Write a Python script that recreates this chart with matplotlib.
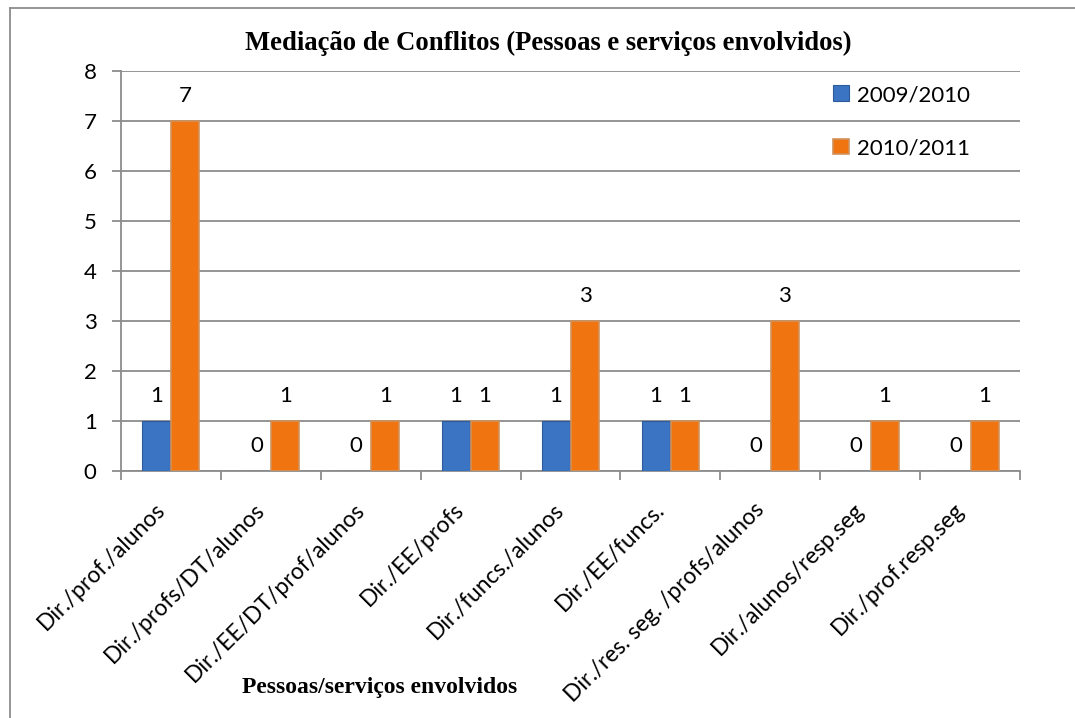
import matplotlib
matplotlib.use("Agg")
import matplotlib.pyplot as plt
import matplotlib.transforms as mtransforms
from matplotlib.lines import Line2D
import numpy as np

categories = ["Dir./prof./alunos", "Dir./profs/DT/alunos", "Dir./EE/DT/prof/alunos",
              "Dir./EE/profs", "Dir./funcs./alunos", "Dir./EE/funcs.",
              "Dir./res. seg. /profs/alunos", "Dir./alunos/resp.seg", "Dir./prof.resp.seg"]
series_names = ["2009/2010", "2010/2011"]
values_2009 = [1, 0, 0, 1, 1, 1, 0, 0, 0]
values_2010 = [7, 1, 1, 1, 3, 1, 3, 1, 1]
y_ticks = [0, 1, 2, 3, 4, 5, 6, 7, 8]

title = "Mediação de Conflitos (Pessoas e serviços envolvidos)"
xlabel = "Pessoas/serviços envolvidos"

W, H = 1075, 718
fig = plt.figure(figsize=(W / 100, H / 100), dpi=100)
fig.patch.set_facecolor("white")

L, R, B, T = 121, 1020, 471, 71
ax = fig.add_axes([L / W, 1 - B / H, (R - L) / W, (B - T) / H])

x = np.arange(len(categories))
bw = 0.28
blue = "#3B74C2"
orange = "#F07511"
ax.bar(x - 0.145, values_2009, width=bw, color=blue, edgecolor="#2E5C9A",
       linewidth=0.8, label=series_names[0], zorder=3)
ax.bar(x + 0.145, values_2010, width=bw, color=orange, edgecolor="#CF915C",
       linewidth=1.2, label=series_names[1], zorder=3)

lab_font = dict(family="Lato", fontsize=16, color="black")
for xi, v in zip(x, values_2009):
    ax.annotate(str(v), (xi - 0.145, v), xytext=(0, 15), textcoords="offset pixels",
                ha="center", va="bottom", **lab_font)
for xi, v in zip(x, values_2010):
    ax.annotate(str(v), (xi + 0.145, v), xytext=(0, 15), textcoords="offset pixels",
                ha="center", va="bottom", **lab_font)

ax.set_xlim(-0.5, len(categories) - 0.5)
ax.set_ylim(0, 8)
ax.set_yticks(y_ticks)
ax.set_yticklabels([str(t) for t in y_ticks], **lab_font)
ax.yaxis.grid(True, color="#8C8C8C", linewidth=1.3, zorder=0)
ax.set_axisbelow(True)

ax.set_xticks(np.arange(-0.5, len(categories), 1.0), minor=False)
ax.set_xticklabels([])
ax.set_xticks(x, minor=True)
ax.set_xticklabels(categories, minor=True, rotation=45, ha="right", va="top",
                   rotation_mode="anchor", family="Lato", fontsize=16.5)
ax.tick_params(axis="x", which="minor", length=0, pad=13)
ax.tick_params(axis="x", which="major", length=6.5, width=1.3, color="#8C8C8C")
ax.tick_params(axis="y", length=6.5, width=1.3, color="#8C8C8C", pad=11)
offset = mtransforms.ScaledTranslation(-17 / 100, -10 / 100, fig.dpi_scale_trans)
for lbl in ax.get_xticklabels(minor=True):
    lbl.set_transform(lbl.get_transform() + offset)

for s in ["top", "right"]:
    ax.spines[s].set_visible(False)
for s in ["left", "bottom"]:
    ax.spines[s].set_color("#8C8C8C")
    ax.spines[s].set_linewidth(1.3)

fig.text(548 / W, 1 - 43 / H, title, ha="center", va="center",
         family="Liberation Serif", fontweight="bold", fontsize=19.2)
fig.text(380 / W, 1 - 688 / H, xlabel, ha="center", va="center",
         family="Liberation Serif", fontweight="bold", fontsize=17)

leg = ax.legend(loc="upper left", bbox_to_anchor=(833 / W, 1 - 85 / H),
                bbox_transform=fig.transFigure, frameon=False,
                prop=dict(family="Lato", size=16), handlelength=0.72,
                handleheight=0.72, handletextpad=0.35, labelspacing=1.5,
                borderpad=0, borderaxespad=0)

# outer chart border (top and left visible)
fig.add_artist(Line2D([10 / W, 1.0], [1 - 8 / H, 1 - 8 / H], transform=fig.transFigure,
                      color="#8C8C8C", linewidth=1.3))
fig.add_artist(Line2D([10 / W, 10 / W], [1 - 8 / H, 0.0], transform=fig.transFigure,
                      color="#8C8C8C", linewidth=1.3))

fig.savefig("out.png", dpi=100, facecolor="white")
